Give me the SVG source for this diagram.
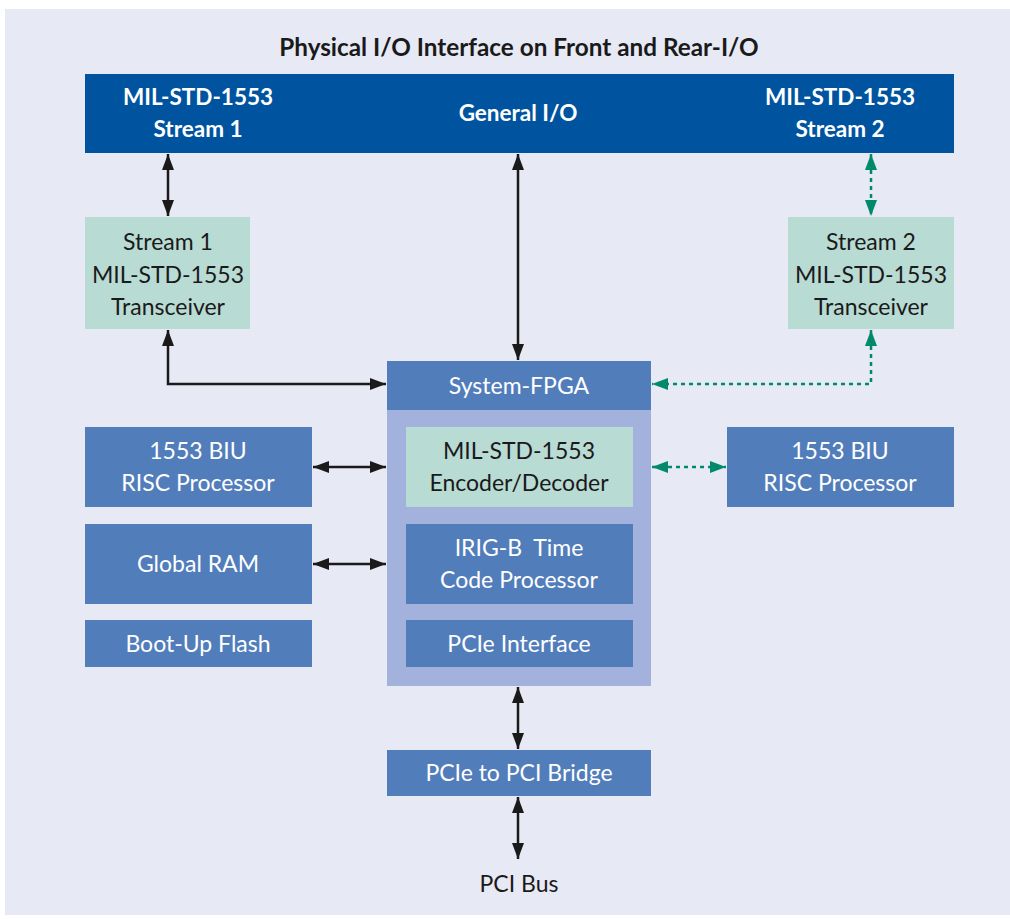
<svg xmlns="http://www.w3.org/2000/svg" width="1010" height="919" viewBox="0 0 1010 919">
<defs>
<style>
.t{font-family:"Source Sans Pro",Lato,"Noto Sans",sans-serif;font-size:23px;text-anchor:middle;dominant-baseline:central}
.w{fill:#ffffff}
.d{fill:#1a1a1a}
.b{font-weight:bold;font-size:22.5px}
.blue{fill:#527dbb}
.teal{fill:#b8dbd4}
.ln{fill:none;stroke:#1a1a1a;stroke-width:2.5}
.gl{fill:none;stroke:#00896b;stroke-width:2.5;stroke-dasharray:4 4}
</style>
<marker id="ab" viewBox="0 0 16 12" refX="16" refY="6" markerWidth="16" markerHeight="12" markerUnits="userSpaceOnUse" orient="auto-start-reverse"><path d="M0,0 L16,6 L0,12 z" fill="#1a1a1a"/></marker>
<marker id="ag" viewBox="0 0 16 12" refX="16" refY="6" markerWidth="16" markerHeight="12" markerUnits="userSpaceOnUse" orient="auto-start-reverse"><path d="M0,0 L16,6 L0,12 z" fill="#00896b"/></marker>
</defs>
<rect width="1010" height="919" fill="#ffffff"/>
<rect x="5" y="9" width="1005" height="906" fill="#e7e9f5"/>
<text class="t d b" x="519" y="46" style="font-size:24.3px">Physical I/O Interface on Front and Rear-I/O</text>
<g id="topbar">
<rect x="85" y="74" width="869" height="79" fill="#00549f"/>
<text class="t w b" x="198" y="96">MIL-STD-1553</text>
<text class="t w b" x="198" y="128">Stream 1</text>
<text class="t w b" x="518" y="112">General I/O</text>
<text class="t w b" x="840" y="96">MIL-STD-1553</text>
<text class="t w b" x="840" y="128">Stream 2</text>
</g>
<g id="xcvr1">
<rect class="teal" x="85" y="217" width="165" height="112"/>
<text class="t d" x="168" y="241">Stream 1</text>
<text class="t d" x="168" y="274">MIL-STD-1553</text>
<text class="t d" x="168" y="306">Transceiver</text>
</g>
<g id="xcvr2">
<rect class="teal" x="788" y="217" width="166" height="112"/>
<text class="t d" x="871" y="241">Stream 2</text>
<text class="t d" x="871" y="274">MIL-STD-1553</text>
<text class="t d" x="871" y="306">Transceiver</text>
</g>
<g id="fpga">
<rect x="387" y="410" width="264" height="276" fill="#a2b2dc"/>
<rect class="blue" x="387" y="361" width="264" height="49"/>
<text class="t w" x="519" y="385">System-FPGA</text>
</g>
<g id="encdec">
<rect class="teal" x="406" y="427" width="227" height="80"/>
<text class="t d" x="519" y="450">MIL-STD-1553</text>
<text class="t d" x="519" y="482">Encoder/Decoder</text>
</g>
<g id="irig">
<rect class="blue" x="406" y="524" width="227" height="80"/>
<text class="t w" x="519" y="547" xml:space="preserve">IRIG-B  Time</text>
<text class="t w" x="519" y="579">Code Processor</text>
</g>
<g id="pcie">
<rect class="blue" x="406" y="620" width="227" height="47"/>
<text class="t w" x="519" y="643">PCIe Interface</text>
</g>
<g id="biu1">
<rect class="blue" x="85" y="427" width="227" height="80"/>
<text class="t w" x="198" y="450">1553 BIU</text>
<text class="t w" x="198" y="482">RISC Processor</text>
</g>
<g id="ram">
<rect class="blue" x="85" y="524" width="227" height="80"/>
<text class="t w" x="198" y="563">Global RAM</text>
</g>
<g id="flash">
<rect class="blue" x="85" y="620" width="227" height="47"/>
<text class="t w" x="198" y="643">Boot-Up Flash</text>
</g>
<g id="biu2">
<rect class="blue" x="727" y="427" width="227" height="80"/>
<text class="t w" x="840" y="450">1553 BIU</text>
<text class="t w" x="840" y="482">RISC Processor</text>
</g>
<g id="bridge">
<rect class="blue" x="387" y="750" width="264" height="46"/>
<text class="t w" x="519" y="772">PCIe to PCI Bridge</text>
</g>
<g id="pcibus">
<text class="t d" x="519" y="883">PCI Bus</text>
</g>
<g id="connectors">
<path class="ln" d="M168,154 V216" marker-start="url(#ab)" marker-end="url(#ab)"/>
<path class="ln" d="M518,154 V360" marker-start="url(#ab)" marker-end="url(#ab)"/>
<path class="gl" d="M871,154 V216" marker-start="url(#ag)" marker-end="url(#ag)"/>
<path class="ln" d="M168,330 V384 H386" marker-start="url(#ab)" marker-end="url(#ab)"/>
<path class="gl" d="M871,330 V384 H652" marker-start="url(#ag)" marker-end="url(#ag)"/>
<path class="ln" d="M313,467 H386" marker-start="url(#ab)" marker-end="url(#ab)"/>
<path class="ln" d="M313,564 H386" marker-start="url(#ab)" marker-end="url(#ab)"/>
<path class="gl" d="M652,467 H726" marker-start="url(#ag)" marker-end="url(#ag)"/>
<path class="ln" d="M518,687 V749" marker-start="url(#ab)" marker-end="url(#ab)"/>
<path class="ln" d="M518,797 V859" marker-start="url(#ab)" marker-end="url(#ab)"/>
</g>
</svg>
